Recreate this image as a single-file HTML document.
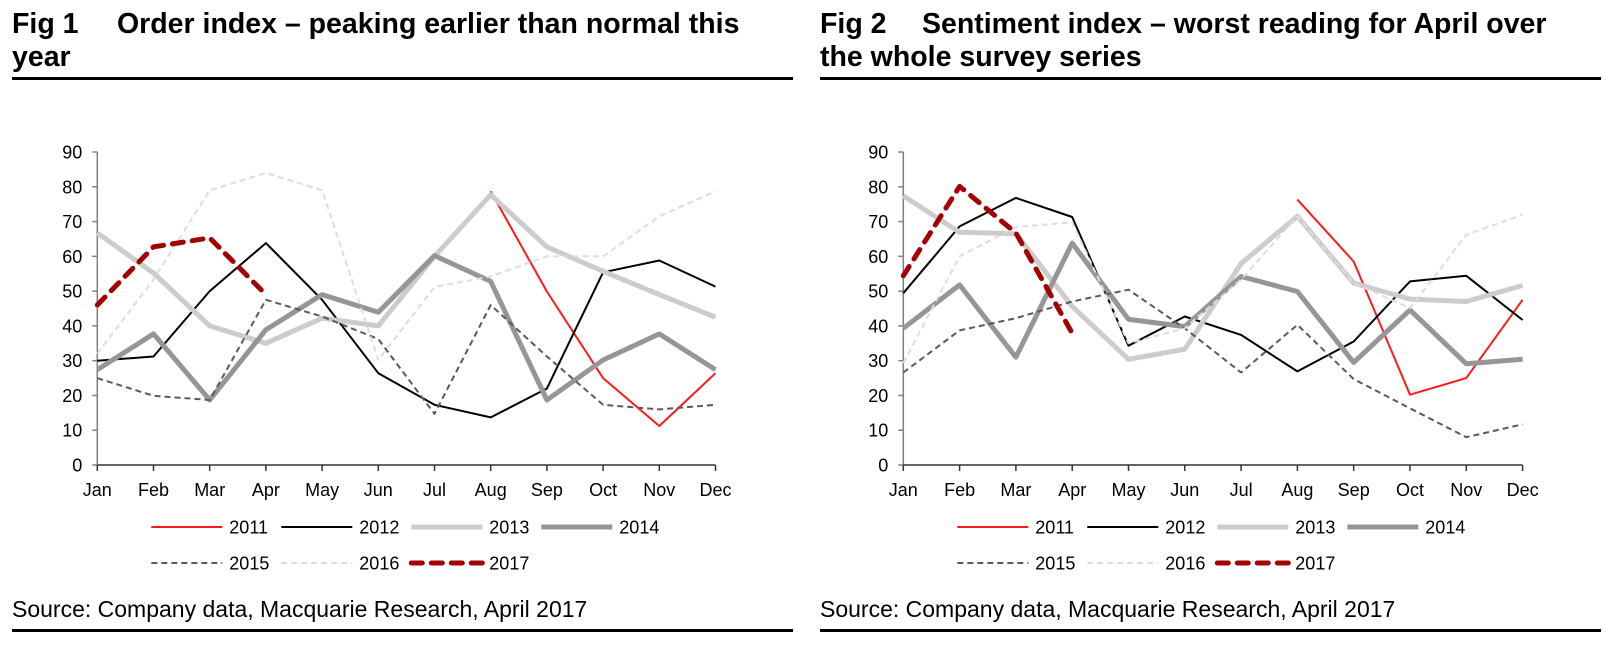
<!DOCTYPE html>
<html><head><meta charset="utf-8">
<style>
html,body{margin:0;padding:0;background:#fff;}
svg{display:block;font-family:"Liberation Sans",Arial,sans-serif;}
</style></head>
<body>
<svg id="root" width="1617" height="658" viewBox="0 0 1617 658" xmlns="http://www.w3.org/2000/svg">
<g font-weight="bold" font-size="28.5" fill="#000">
<text x="12" y="33">Fig 1</text>
<text x="117" y="33">Order index – peaking earlier than normal this</text>
<text x="12" y="66">year</text>
</g>
<rect x="12" y="77" width="781" height="3" fill="#000"/>
<g font-weight="bold" font-size="28.5" fill="#000">
<text x="820" y="33">Fig 2</text>
<text x="922" y="33">Sentiment index – worst reading for April over</text>
<text x="820" y="66">the whole survey series</text>
</g>
<rect x="820" y="77" width="781" height="3" fill="#000"/>
<text x="12" y="617" font-size="23">Source: Company data, Macquarie Research, April 2017</text>
<rect x="12" y="629" width="781" height="3" fill="#000"/>
<text x="820" y="617" font-size="23">Source: Company data, Macquarie Research, April 2017</text>
<rect x="820" y="629" width="781" height="3" fill="#000"/>
<g id="c1"></g>
<g id="c2"></g>
</svg>
<script>
const months = ["Jan","Feb","Mar","Apr","May","Jun","Jul","Aug","Sep","Oct","Nov","Dec"];
const yTicks = [0,10,20,30,40,50,60,70,80,90];
const years = ["2011","2012","2013","2014","2015","2016","2017"];
// Fig 1 order index
const order2011 = [null,null,null,null,null,null,null,78.7,49.9,25,11.2,26.4];
const order2012 = [30,31.2,50,63.8,47.5,26.4,17.3,13.7,22,55.4,58.8,51.3];
const order2013 = [66.7,55.2,40,35,42.2,40,60,77.7,62.7,55.7,49,42.5];
const order2014 = [27.4,37.7,18.7,38.9,49,43.9,60.2,52.8,18.7,30.2,37.7,27.4];
const order2015 = [25,19.9,18.7,47.5,42.7,36.2,14.7,46,31.2,17.3,16,17.3];
const order2016 = [32,53.3,79,84,79,30.2,51.2,54.2,60,60,71.5,78.7];
const order2017 = [46,62.7,65.3,49,null,null,null,null,null,null,null,null];
// Fig 2 sentiment index
const sent2011 = [null,null,null,null,null,null,null,76.3,58.5,20.2,25,47.5];
const sent2012 = [49.4,68.6,76.8,71.3,34.3,42.7,37.4,26.9,35.5,52.8,54.4,41.7];
const sent2013 = [77.4,66.9,66.5,45.6,30.4,33.3,57.9,71.5,52.3,47.7,47,51.6];
const sent2014 = [39.3,51.8,31,63.8,41.9,39.8,54.2,49.9,29.5,44.6,29.1,30.4];
const sent2015 = [26.6,38.7,42.2,47,50.4,39.3,26.6,40.3,24.7,16.3,8,11.7];
const sent2016 = [29.3,60,68.4,69.8,35,39.3,53.3,71.5,52.3,45.1,66.2,72];
const sent2017 = [54.4,80.1,66.7,37.9,null,null,null,null,null,null,null,null];

const styles = {
 "2011":{c:"#ff1a1a",w:2,d:null},
 "2012":{c:"#000",w:2,d:null},
 "2013":{c:"#cccccc",w:5,d:null},
 "2014":{c:"#969696",w:5,d:null},
 "2015":{c:"#5a5a5a",w:2,d:"6,4"},
 "2016":{c:"#dddddd",w:2,d:"6,4"},
 "2017":{c:"#a50000",w:5,d:"11,9"}
};
const NS="http://www.w3.org/2000/svg";
function mk(tag,attrs,parent){const e=document.createElementNS(NS,tag);for(const k in attrs)e.setAttribute(k,attrs[k]);parent.appendChild(e);return e;}

function draw(gid,x0,step,series,prefix){
 const g=document.getElementById(gid);
 const y0=465, yTop=152;
 const X=i=>x0+i*step;
 const Y=v=>y0-(v/90)*(y0-yTop);
 const ya=mk("line",{x1:x0,y1:yTop,x2:x0,y2:y0,stroke:"#808080","stroke-width":1.5},g);
 
 
 yTicks.forEach(t=>{
  const tk=mk("line",{x1:x0-5,y1:Y(t),x2:x0,y2:Y(t),stroke:"#808080","stroke-width":1.5},g);
  
  
  const tl=mk("text",{x:x0-15,y:Y(t)+6.5,"font-size":18,"text-anchor":"end"},g);
  tl.textContent=t;
  
  
 });
 const xa=mk("line",{x1:x0,y1:y0,x2:X(11),y2:y0,stroke:"#333","stroke-width":1.5},g);
 
 
 months.forEach((m,i)=>{
  const tk=mk("line",{x1:X(i),y1:y0,x2:X(i),y2:y0+6,stroke:"#333","stroke-width":1.5},g);
  
  
  const tl=mk("text",{x:X(i),y:496,"font-size":18,"text-anchor":"middle"},g);
  tl.textContent=m;
  
  
 });
 years.forEach((yr,k)=>{
  const s=styles[yr], vals=series[k];
  let pts=[];
  vals.forEach((v,i)=>{if(v!==null)pts.push(X(i).toFixed(1)+","+Y(v).toFixed(1));});
  const a={points:pts.join(" "),fill:"none",stroke:s.c,"stroke-width":s.w,"stroke-linejoin":"round"};
  if(s.d){a["stroke-dasharray"]=s.d;}
  if(yr==="2017")a["stroke-linecap"]="round";
  const p=mk("polyline",a,g);
  
  
  const row=k<4?0:1, col=k<4?k:k-4;
  const lx=x0+54+col*130, ly=row===0?527:563;
  const la={x1:lx,y1:ly,x2:lx+71,y2:ly,stroke:s.c,"stroke-width":s.w};
  if(s.d)la["stroke-dasharray"]=s.d;
  if(yr==="2017")la["stroke-linecap"]="round";
  const ll=mk("line",la,g);
  
  
  const lt=mk("text",{x:lx+78,y:ly+6.5,"font-size":18},g);
  lt.textContent=yr;
  
  
 });
}
draw("c1",97.3,56.2,[order2011,order2012,order2013,order2014,order2015,order2016,order2017],"fig1");
draw("c2",903.3,56.3,[sent2011,sent2012,sent2013,sent2014,sent2015,sent2016,sent2017],"fig2");
</script>
</body></html>
